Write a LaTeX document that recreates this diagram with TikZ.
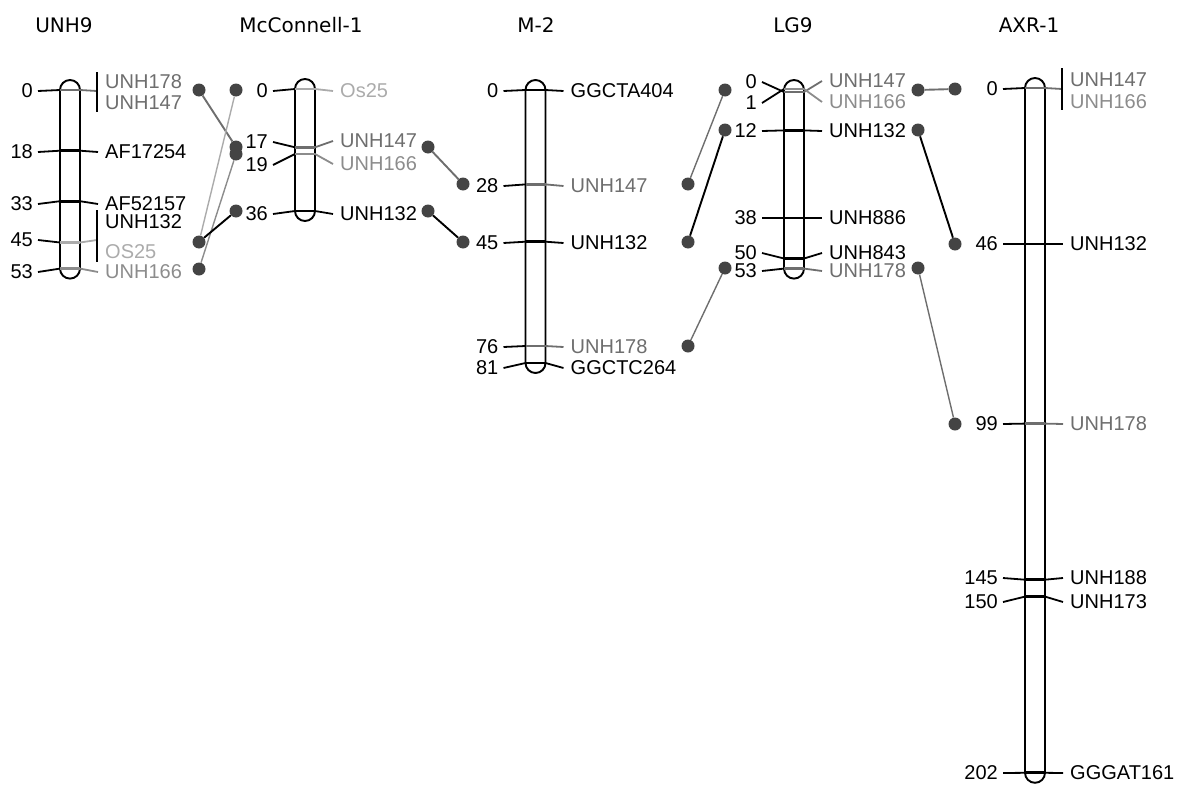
\documentclass[tikz,border=0pt]{standalone}
\usepackage{fontspec}
\setmainfont{Liberation Sans}
\newfontfamily\titlefont{DejaVu Sans}
\definecolor{gA}{HTML}{6E6E6E}
\definecolor{gB}{HTML}{8C8C8C}
\definecolor{gC}{HTML}{ABABAB}
\definecolor{dotc}{HTML}{444444}
\tikzset{
 lab/.style={font=\fontsize{20}{22}\selectfont, inner sep=0pt, anchor=west},
 num/.style={font=\fontsize{20}{22}\selectfont, inner sep=0pt, anchor=east},
 ttl/.style={font=\titlefont\fontsize{20}{22}\selectfont, inner sep=0pt},
 chrom/.style={line width=1.9pt, rounded corners=10pt},
 tickl/.style={line width=1.8pt},
 tickin/.style={line width=2.8pt},
 dot/.style={circle, fill=dotc, minimum size=13pt, inner sep=0pt},
 lnk/.style={line width=1.9pt},
 lnkg/.style={line width=1.4pt},
}
% #1 id, #2 cx, #3 bar y, #4 number y, #5 label y, #6 number, #7 label, #8 colour
\newcommand\mrk[8]{%
 \node[num] (n#1) at (#2-37,#4) {#6};
 \node[lab, text=#8] (l#1) at (#2+35,#5) {#7};
 \draw[tickl] (#2-32,#4) -- (#2-10,#3);
 \draw[tickin, #8] (#2-10,#3) -- (#2+10,#3);
 \draw[tickl, #8] (#2+10,#3) -- (#2+28,#5);
}
% bracketed marker: #1 id, #2 cx, #3 bar y, #4 number y, #5 number, #6 colour, #7 top, #8 bottom
\newcommand\mrkb[8]{%
 \node[num] (n#1) at (#2-37,#4) {#5};
 \draw[tickl] (#2-32,#4) -- (#2-10,#3);
 \draw[tickin, #6] (#2-10,#3) -- (#2+10,#3);
 \draw[tickl, #6] (#2+10,#3) -- (#2+27,#4);
 \draw[tickl, black] (#2+27,#7) -- (#2+27,#8);
}
\begin{document}
\begin{tikzpicture}[x=1pt,y=-1pt]
\useasboundingbox (0,0) rectangle (1189,787);
% titles
\node[ttl] (t1) at (64,25) {UNH9};
\node[ttl] (t2) at (301,25) {McConnell-1};
\node[ttl] (t3) at (536,25) {M-2};
\node[ttl] (t4) at (793,25) {LG9};
\node[ttl] (t5) at (1029,25) {AXR-1};
% chromosome bars
\draw[chrom] (60,80) rectangle (80,278.6);
\draw[chrom] (295,79) rectangle (315,221);
\draw[chrom] (525.5,80) rectangle (545.5,373);
\draw[chrom] (784,80) rectangle (804,278.6);
\draw[chrom] (1025,78) rectangle (1045,782.8);
% UNH9
\mrkb{a0}{70}{90}{91}{0}{gA}{72}{112}
\node[lab, text=gA] (la0a) at (105,82) {UNH178};
\node[lab, text=gA] (la0b) at (105,103) {UNH147};
\mrk{a18}{70}{150.7}{152}{152}{18}{AF17254}{black}
\mrk{a33}{70}{201.2}{204}{204}{33}{AF52157}{black}
\mrkb{a45}{70}{242.5}{240}{45}{gC}{210}{262}
\node[lab] (la45a) at (105,222) {UNH132};
\node[lab, text=gC] (la45b) at (105,252) {OS25};
\mrk{a53}{70}{268.6}{272}{272}{53}{UNH166}{gB}
% McConnell-1
\mrk{b0}{305}{89}{91}{91}{0}{Os25}{gC}
\mrk{b17}{305}{147.3}{142}{141}{17}{UNH147}{gA}
\mrk{b19}{305}{154}{165}{164}{19}{UNH166}{gB}
\mrk{b36}{305}{211}{214}{214}{36}{UNH132}{black}
% M-2
\mrk{c0}{535.5}{90}{91}{91}{0}{GGCTA404}{black}
\mrk{c28}{535.5}{184.4}{186}{186}{28}{UNH147}{gA}
\mrk{c45}{535.5}{241.7}{243}{243}{45}{UNH132}{black}
\mrk{c76}{535.5}{346}{347}{347}{76}{UNH178}{gA}
\mrk{c81}{535.5}{363}{368}{368}{81}{GGCTC264}{black}
% LG9
\mrk{d0}{794}{92}{82}{81}{0}{UNH147}{gA}
\mrk{d1}{794}{89}{103}{102}{1}{UNH166}{gB}
\mrk{d12}{794}{130.4}{131}{131}{12}{UNH132}{black}
\mrk{d38}{794}{218}{218}{218}{38}{UNH886}{black}
\mrk{d50}{794}{258.5}{253}{253}{50}{UNH843}{black}
\mrk{d53}{794}{268.6}{271}{271}{53}{UNH178}{gA}
% AXR-1
\mrkb{e0}{1035}{88}{89}{0}{gA}{68}{110}
\node[lab, text=gA] (le0a) at (1070,80) {UNH147};
\node[lab, text=gB] (le0b) at (1070,102) {UNH166};
\mrk{e46}{1035}{244}{244}{244}{46}{UNH132}{black}
\mrk{e99}{1035}{423.6}{424}{424}{99}{UNH178}{gA}
\mrk{e145}{1035}{579.7}{578}{578}{145}{UNH188}{black}
\mrk{e150}{1035}{596.6}{602}{602}{150}{UNH173}{black}
\mrk{e202}{1035}{772.8}{773}{773}{202}{GGGAT161}{black}
% dots
\node[dot] (p1a) at (199,90) {};
\node[dot] (p1b) at (199,242) {};
\node[dot] (p1c) at (199,269) {};
\node[dot] (q2a) at (236,90) {};
\node[dot] (q2b) at (236,147) {};
\node[dot] (q2c) at (236,154) {};
\node[dot] (q2d) at (236,211) {};
\node[dot] (r2b) at (428,147) {};
\node[dot] (r2d) at (428,211) {};
\node[dot] (s3b) at (463,184) {};
\node[dot] (s3d) at (463,242) {};
\node[dot] (t3b) at (688,184) {};
\node[dot] (t3d) at (688,242) {};
\node[dot] (t3e) at (688,346) {};
\node[dot] (u4a) at (725,90) {};
\node[dot] (u4d) at (725,130) {};
\node[dot] (u4e) at (725,268) {};
\node[dot] (v4a) at (918,90) {};
\node[dot] (v4d) at (918,130) {};
\node[dot] (v4e) at (918,268) {};
\node[dot] (w5a) at (955,89) {};
\node[dot] (w5d) at (955,244) {};
\node[dot] (w5e) at (955,424) {};
% links
\draw[lnk, gA] (p1a) -- (q2b);
\draw[lnkg, gC] (q2a) -- (p1b);
\draw[lnkg, gB] (q2c) -- (p1c);
\draw[lnk] (q2d) -- (p1b);
\draw[lnk, gA] (r2b) -- (s3b);
\draw[lnk] (r2d) -- (s3d);
\draw[lnkg, gA] (t3b) -- (u4a);
\draw[lnk] (t3d) -- (u4d);
\draw[lnkg, gA] (t3e) -- (u4e);
\draw[lnk, gA] (v4a) -- (w5a);
\draw[lnk] (v4d) -- (w5d);
\draw[lnkg, gA] (v4e) -- (w5e);
\end{tikzpicture}
\end{document}
